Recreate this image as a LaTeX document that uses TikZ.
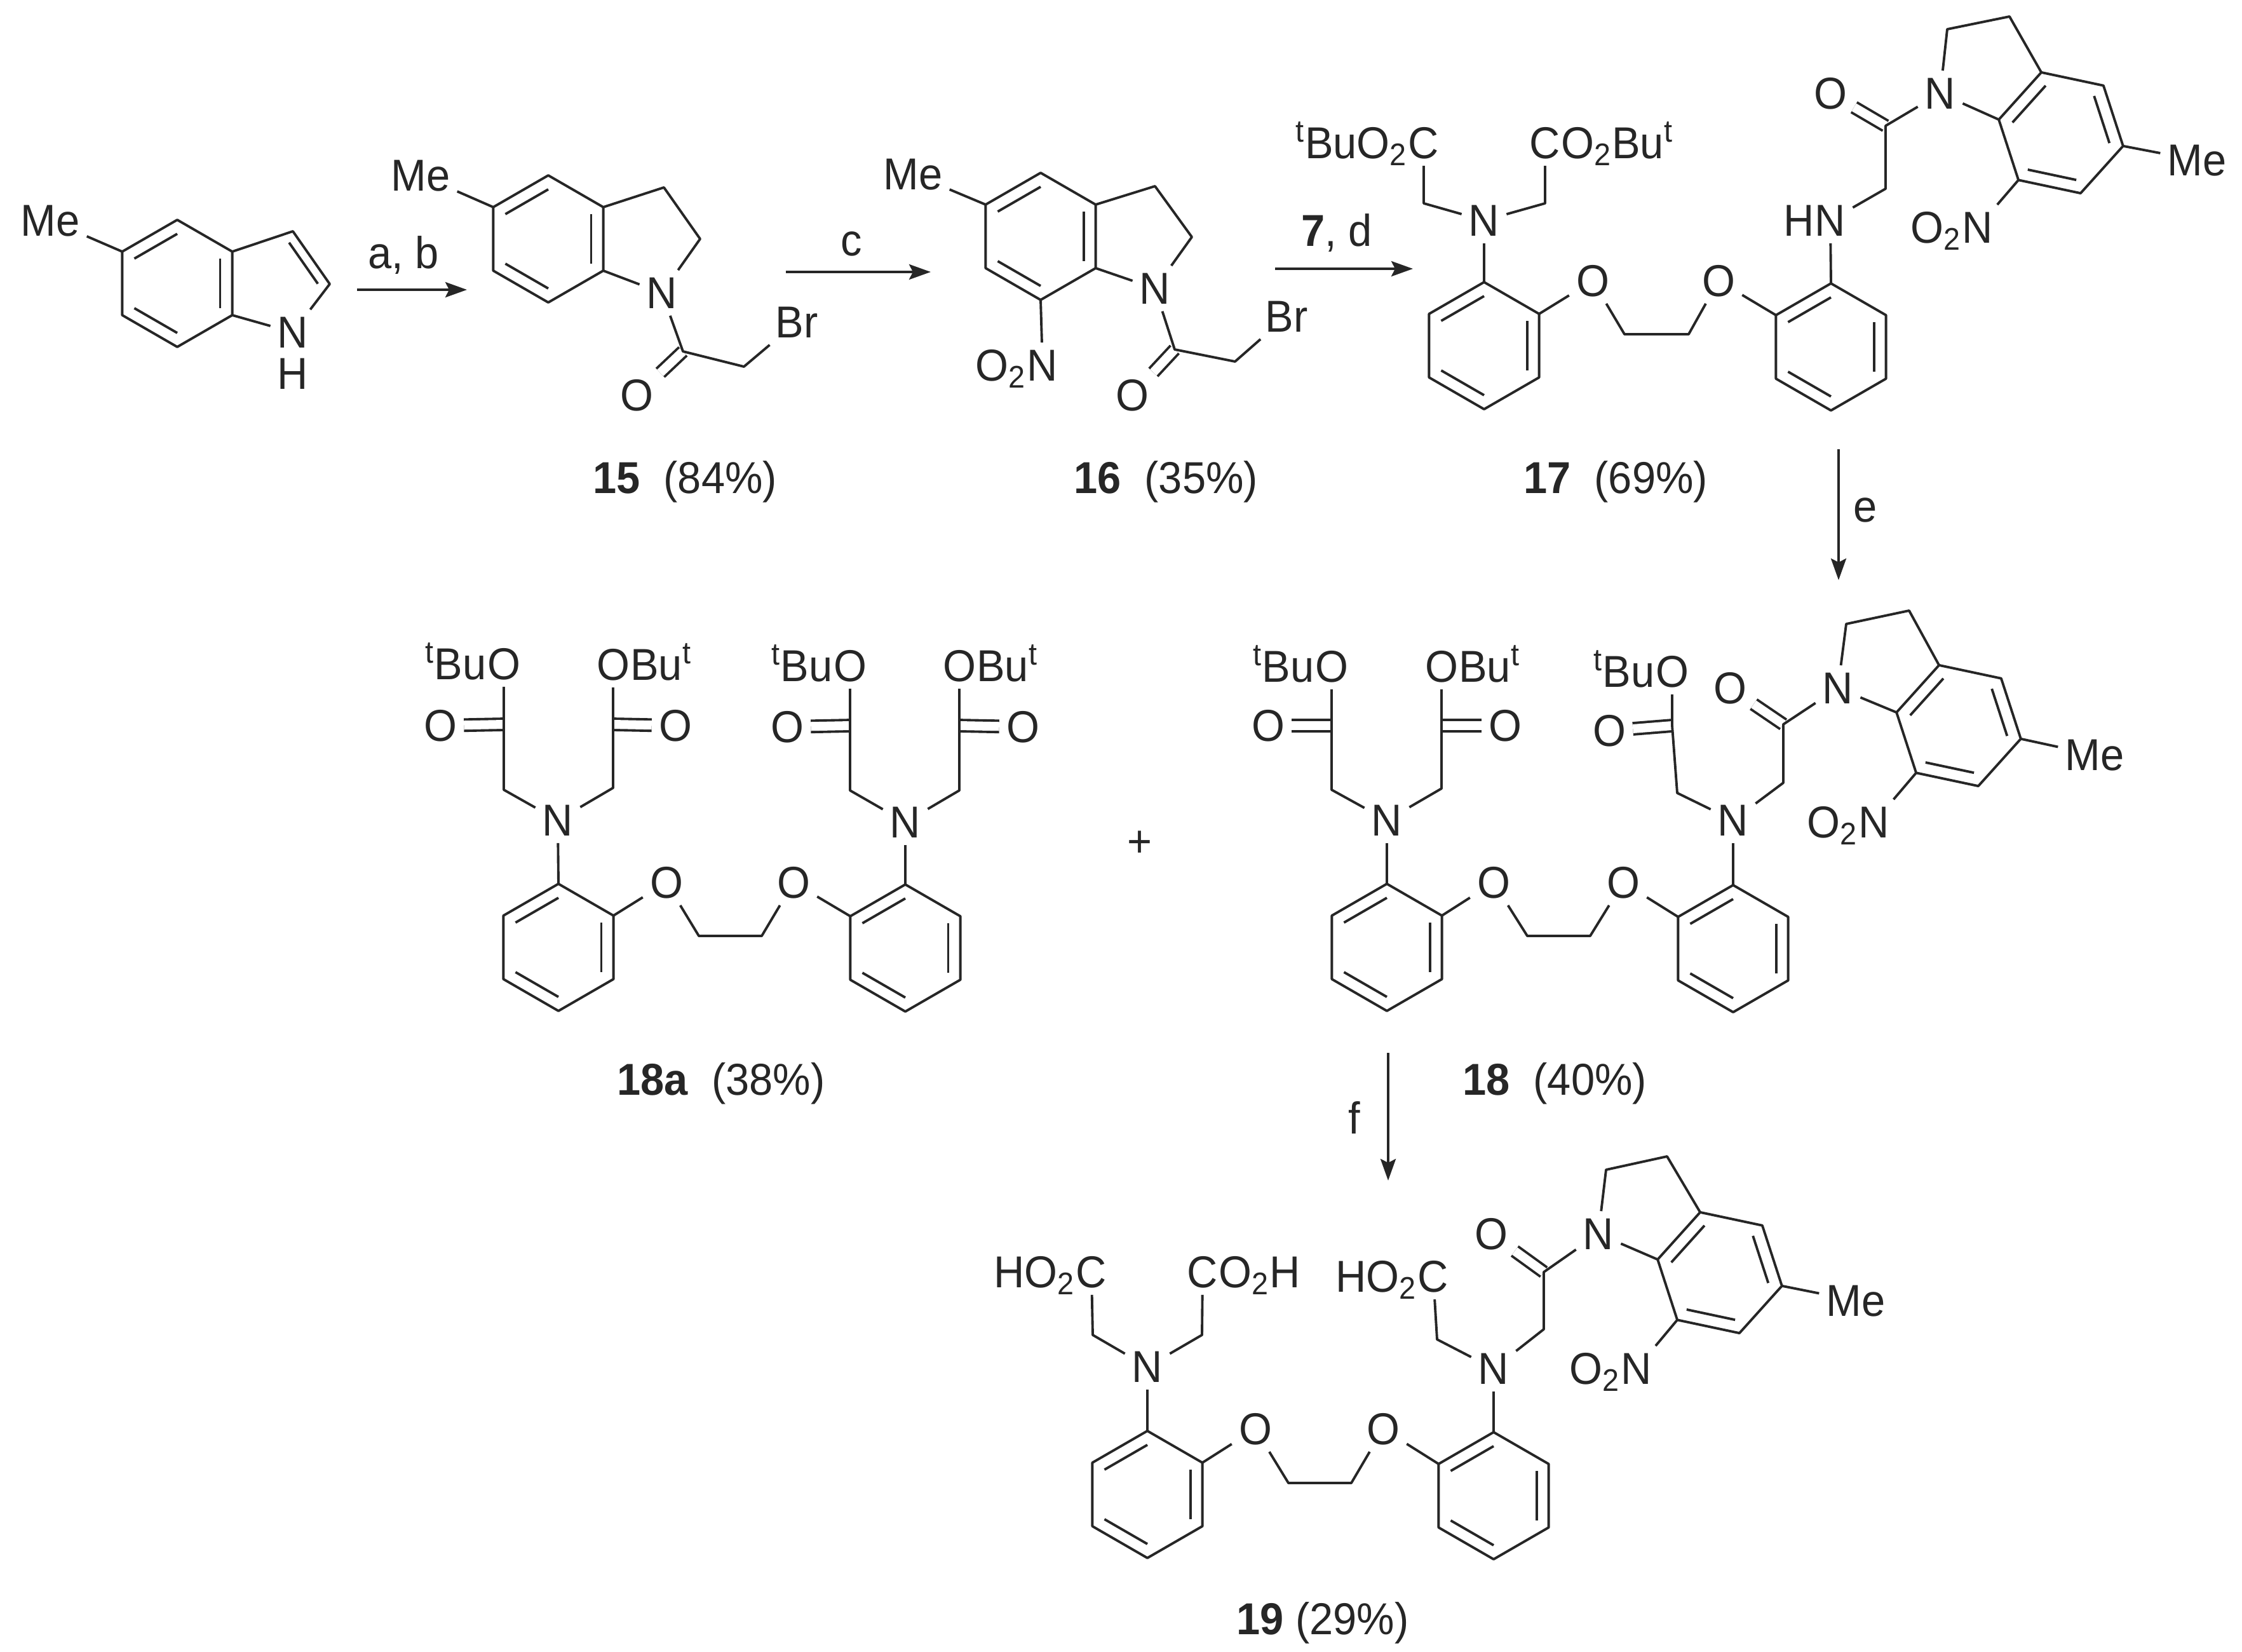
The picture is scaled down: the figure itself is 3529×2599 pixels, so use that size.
\documentclass[tikz,border=0pt]{standalone}
\usepackage{fontspec}
\setmainfont[FakeStretch=0.95]{Liberation Sans}
\usetikzlibrary{arrows.meta,calc,positioning}
\definecolor{ink}{HTML}{262626}
\tikzset{
    atom/.style={inner sep=3pt, text=ink, text height=14pt, text depth=0pt, font=\fontsize{20}{24}\selectfont},
    bond/.style={draw=ink, line width=1.1pt, line join=round},
    dbond/.style={draw=ink, line width=1.1pt, double=white, double distance=0.14cm},
    rxn/.style={draw=ink, line width=1.1pt, -{Stealth[length=0.34cm, width=0.24cm, inset=0.06cm]}}
}
\newcommand{\innerline}[3]{\draw [bond] ($(#1)!.22!(#3)$) -- ($(#2)!.22!(#3)$);}
\newcommand{\hexring}[4]{
    \coordinate (#1) at (#2, #3);
    \foreach \i in {1,...,6}{\coordinate (#1\i) at ($(#1)+({60*\i-150+#4}:100)$);}
    \draw [bond] (#11) -- (#12) -- (#13) -- (#14) -- (#15) -- (#16) -- cycle;
    \innerline{#16}{#11}{#1}
    \innerline{#12}{#13}{#1}
    \innerline{#14}{#15}{#1}
}
\begin{document}
\begin{tikzpicture}[x=0.01cm, y=-0.01cm]
    \useasboundingbox (0, 0) rectangle (3529, 2599);

    \hexring{ir}{279}{446}{0}
    \coordinate (ic3) at (461, 364);
    \coordinate (ic2) at (519, 447);
    \coordinate (icp) at (434, 445);
    \node [atom] (ime) at (79, 347){Me};
    \node [atom] (in) at (461, 523){N};
    \node [atom] (ih) at (461, 588){H};
    \draw [bond] (ime) -- (ir6);
    \draw [bond] (ir2) -- (ic3) -- (ic2) -- (in) -- (ir3);
    \innerline{ic3}{ic2}{icp}

    \coordinate (ab1) at (562, 456);
    \coordinate (ab2) at (735, 456);
    \draw [rxn] (ab1) -- (ab2);
    \node [atom] (abl) at (635, 398){a, b};

    \hexring{pr}{863}{376}{0}
    \coordinate (pc3) at (1045, 295);
    \coordinate (pc2) at (1102, 376);
    \coordinate (pco) at (1075, 553);
    \coordinate (pch) at (1171, 577);
    \node [atom] (pme) at (662, 276){Me};
    \node [atom] (pn) at (1042, 461){N};
    \node [atom] (po) at (1002, 622){O};
    \node [atom] (pbr) at (1254, 507){Br};
    \draw [dbond] (pco) -- (po);
    \draw [bond] (pme) -- (pr6);
    \draw [bond] (pr2) -- (pc3) -- (pc2) -- (pn) -- (pr3);
    \draw [bond] (pn) -- (pco) -- (pch) -- (pbr);
    \node [atom] (pl) at (1078, 752){\textbf{15}~~(84\%)};

    \coordinate (c1) at (1237, 428);
    \coordinate (c2) at (1465, 428);
    \draw [rxn] (c1) -- (c2);
    \node [atom] (cl) at (1340, 378){c};

    \hexring{qr}{1638}{372}{0}
    \coordinate (qc3) at (1818, 293);
    \coordinate (qc2) at (1876, 373);
    \coordinate (qco) at (1849, 550);
    \coordinate (qch) at (1944, 569);
    \node [atom] (qme) at (1437, 274){Me};
    \node [atom] (qn) at (1818, 454){N};
    \node [atom] (qo) at (1782, 622){O};
    \node [atom] (qbr) at (2025, 498){Br};
    \node [atom] (qnn) at (1641, 575){N};
    \node [atom, left=-6pt of qnn] (qno) {O\textsubscript{2}};
    \draw [dbond] (qco) -- (qo);
    \draw [bond] (qme) -- (qr6);
    \draw [bond] (qr4) -- (qnn);
    \draw [bond] (qr2) -- (qc3) -- (qc2) -- (qn) -- (qr3);
    \draw [bond] (qn) -- (qco) -- (qch) -- (qbr);
    \node [atom] (ql) at (1835, 752){\textbf{16}~~(35\%)};

    \coordinate (d1) at (2007, 423);
    \coordinate (d2) at (2224, 423);
    \draw [rxn] (d1) -- (d2);
    \node [atom] (dl) at (2104, 363){\textbf{7}, d};

    \hexring{ra}{2336}{544}{0}
    \hexring{rb}{2882}{546}{0}
    \hexring{rs}{3244}{209}{-18}
    \coordinate (rch1) at (2241, 320);
    \coordinate (rch2) at (2432, 320);
    \coordinate (re1) at (2557, 526);
    \coordinate (re2) at (2658, 526);
    \coordinate (rch3) at (2968, 297);
    \coordinate (rco) at (2968, 198);
    \coordinate (rc5) at (3163, 26);
    \coordinate (rc6) at (3065, 46);
    \node [atom] (rn1) at (2336, 347){N};
    \node [atom] (rc1) at (2241, 225){C};
    \node [atom, left=-6pt of rc1] (rt1) {\textsuperscript{t}BuO\textsubscript{2}};
    \node [atom] (rc2) at (2432, 225){C};
    \node [atom, right=-6pt of rc2] (rt2) {O\textsubscript{2}Bu\textsuperscript{t}};
    \node [atom] (ro1) at (2507, 442){O};
    \node [atom] (ro2) at (2705, 442){O};
    \node [atom] (rnh) at (2881, 347){N};
    \node [atom, left=-6pt of rnh] (rh) {H};
    \node [atom] (ro) at (2881, 147){O};
    \node [atom] (rn2) at (3054, 147){N};
    \node [atom] (rme) at (3458, 252){Me};
    \node [atom] (rnn) at (3113, 358){N};
    \node [atom, left=-6pt of rnn] (rno) {O\textsubscript{2}};
    \draw [dbond] (rco) -- (ro);
    \draw [bond] (rc1) -- (rch1) -- (rn1) -- (rch2) -- (rc2);
    \draw [bond] (rn1) -- (ra1);
    \draw [bond] (ra2) -- (ro1) -- (re1) -- (re2) -- (ro2) -- (rb6);
    \draw [bond] (rb1) -- (rnh) -- (rch3) -- (rco) -- (rn2) -- (rs6);
    \draw [bond] (rs1) -- (rc5) -- (rc6) -- (rn2);
    \draw [bond] (rs3) -- (rme);
    \draw [bond] (rs5) -- (rnn);
    \node [atom] (rl) at (2543, 752){\textbf{17}~~(69\%)};

    \coordinate (e1) at (2894, 707);
    \coordinate (e2) at (2894, 913);
    \draw [rxn] (e1) -- (e2);
    \node [atom] (el) at (2936, 797){e};

    \hexring{sa}{879}{1491}{0}
    \hexring{sb}{1425}{1492}{0}
    \coordinate (sch1) at (793, 1243);
    \coordinate (sc1) at (793, 1140);
    \coordinate (sch2) at (965, 1240);
    \coordinate (sc2) at (965, 1140);
    \coordinate (sch3) at (1338, 1244);
    \coordinate (sc3) at (1338, 1142);
    \coordinate (sch4) at (1510, 1244);
    \coordinate (sc4) at (1510, 1142);
    \coordinate (se1) at (1100, 1473);
    \coordinate (se2) at (1199, 1473);
    \node [atom] (sn1) at (878, 1291){N};
    \node [atom] (sn2) at (1425, 1294){N};
    \node [atom] (so1) at (793, 1045){O};
    \node [atom, left=-6pt of so1] (st1) {\textsuperscript{t}Bu};
    \node [atom] (so2) at (965, 1046){O};
    \node [atom, right=-6pt of so2] (st2) {Bu\textsuperscript{t}};
    \node [atom] (so3) at (1338, 1048){O};
    \node [atom, left=-6pt of so3] (st3) {\textsuperscript{t}Bu};
    \node [atom] (so4) at (1510, 1048){O};
    \node [atom, right=-6pt of so4] (st4) {Bu\textsuperscript{t}};
    \node [atom] (sd1) at (693, 1142){O};
    \node [atom] (sd2) at (1063, 1142){O};
    \node [atom] (sd3) at (1239, 1144){O};
    \node [atom] (sd4) at (1610, 1144){O};
    \node [atom] (sx1) at (1049, 1389){O};
    \node [atom] (sx2) at (1249, 1389){O};
    \draw [dbond] (sc1) -- (sd1);
    \draw [dbond] (sc2) -- (sd2);
    \draw [dbond] (sc3) -- (sd3);
    \draw [dbond] (sc4) -- (sd4);
    \draw [bond] (so1) -- (sc1) -- (sch1) -- (sn1) -- (sch2) -- (sc2) -- (so2);
    \draw [bond] (so3) -- (sc3) -- (sch3) -- (sn2) -- (sch4) -- (sc4) -- (so4);
    \draw [bond] (sn1) -- (sa1);
    \draw [bond] (sn2) -- (sb1);
    \draw [bond] (sa2) -- (sx1) -- (se1) -- (se2) -- (sx2) -- (sb6);
    \node [atom] (sl) at (1135, 1699){\textbf{18a}~~(38\%)};

    \node [atom] (plus) at (1794, 1324){+};

    \hexring{ua}{2183}{1491}{0}
    \hexring{ub}{2728}{1493}{0}
    \hexring{us}{3083}{1142}{-18}
    \coordinate (uch1) at (2096, 1243);
    \coordinate (uc1) at (2096, 1142);
    \coordinate (uch2) at (2269, 1241);
    \coordinate (uc2) at (2269, 1142);
    \coordinate (uch3) at (2640, 1248);
    \coordinate (uc3) at (2632, 1142);
    \coordinate (uch4) at (2807, 1232);
    \coordinate (uco) at (2807, 1140);
    \coordinate (ue1) at (2404, 1473);
    \coordinate (ue2) at (2503, 1473);
    \coordinate (uc5) at (3005, 961);
    \coordinate (uc6) at (2906, 982);
    \node [atom] (un1) at (2183, 1291){N};
    \node [atom] (un2) at (2728, 1291){N};
    \node [atom] (un3) at (2893, 1083){N};
    \node [atom] (uo1) at (2096, 1049){O};
    \node [atom, left=-6pt of uo1] (ut1) {\textsuperscript{t}Bu};
    \node [atom] (uo2) at (2269, 1049){O};
    \node [atom, right=-6pt of uo2] (ut2) {Bu\textsuperscript{t}};
    \node [atom] (uo3) at (2632, 1057){O};
    \node [atom, left=-6pt of uo3] (ut3) {\textsuperscript{t}Bu};
    \node [atom] (ud1) at (1996, 1142){O};
    \node [atom] (ud2) at (2369, 1142){O};
    \node [atom] (ud3) at (2533, 1150){O};
    \node [atom] (uo) at (2723, 1083){O};
    \node [atom] (ux1) at (2351, 1389){O};
    \node [atom] (ux2) at (2555, 1389){O};
    \node [atom] (ume) at (3297, 1188){Me};
    \node [atom] (unn) at (2950, 1294){N};
    \node [atom, left=-6pt of unn] (uno) {O\textsubscript{2}};
    \draw [dbond] (uc1) -- (ud1);
    \draw [dbond] (uc2) -- (ud2);
    \draw [dbond] (uc3) -- (ud3);
    \draw [dbond] (uco) -- (uo);
    \draw [bond] (uo1) -- (uc1) -- (uch1) -- (un1) -- (uch2) -- (uc2) -- (uo2);
    \draw [bond] (uo3) -- (uc3) -- (uch3) -- (un2) -- (uch4) -- (uco) -- (un3) -- (us6);
    \draw [bond] (un1) -- (ua1);
    \draw [bond] (un2) -- (ub1);
    \draw [bond] (ua2) -- (ux1) -- (ue1) -- (ue2) -- (ux2) -- (ub6);
    \draw [bond] (us1) -- (uc5) -- (uc6) -- (un3);
    \draw [bond] (us3) -- (ume);
    \draw [bond] (us5) -- (unn);
    \node [atom] (ul) at (2447, 1699){\textbf{18}~~(40\%)};

    \coordinate (f1) at (2185, 1657);
    \coordinate (f2) at (2185, 1858);
    \draw [rxn] (f1) -- (f2);
    \node [atom] (fl) at (2132, 1760){f};

    \hexring{va}{1806}{2352}{0}
    \hexring{vb}{2351}{2354}{0}
    \hexring{vs}{2707}{2003}{-18}
    \coordinate (vch1) at (1720, 2101);
    \coordinate (vch2) at (1892, 2101);
    \coordinate (vch3) at (2262, 2108);
    \coordinate (vch4) at (2430, 2092);
    \coordinate (vco) at (2430, 2002);
    \coordinate (ve1) at (2028, 2334);
    \coordinate (ve2) at (2127, 2334);
    \coordinate (vc5) at (2624, 1820);
    \coordinate (vc6) at (2528, 1841);
    \node [atom] (vn1) at (1806, 2151){N};
    \node [atom] (vn2) at (2351, 2154){N};
    \node [atom] (vn3) at (2516, 1942){N};
    \node [atom] (vc1) at (1718, 2002){C};
    \node [atom, left=-6pt of vc1] (vt1) {HO\textsubscript{2}};
    \node [atom] (vc2) at (1893, 2002){C};
    \node [atom, right=-6pt of vc2] (vt2) {O\textsubscript{2}H};
    \node [atom] (vc3) at (2256, 2009){C};
    \node [atom, left=-6pt of vc3] (vt3) {HO\textsubscript{2}};
    \node [atom] (vo) at (2347, 1942){O};
    \node [atom] (vx1) at (1976, 2249){O};
    \node [atom] (vx2) at (2177, 2249){O};
    \node [atom] (vme) at (2921, 2047){Me};
    \node [atom] (vnn) at (2576, 2154){N};
    \node [atom, left=-6pt of vnn] (vno) {O\textsubscript{2}};
    \draw [dbond] (vco) -- (vo);
    \draw [bond] (vc1) -- (vch1) -- (vn1) -- (vch2) -- (vc2);
    \draw [bond] (vc3) -- (vch3) -- (vn2) -- (vch4) -- (vco) -- (vn3) -- (vs6);
    \draw [bond] (vn1) -- (va1);
    \draw [bond] (vn2) -- (vb1);
    \draw [bond] (va2) -- (vx1) -- (ve1) -- (ve2) -- (vx2) -- (vb6);
    \draw [bond] (vs1) -- (vc5) -- (vc6) -- (vn3);
    \draw [bond] (vs3) -- (vme);
    \draw [bond] (vs5) -- (vnn);
    \node [atom] (vl) at (2082, 2548){\textbf{19}~(29\%)};
\end{tikzpicture}
\end{document}
